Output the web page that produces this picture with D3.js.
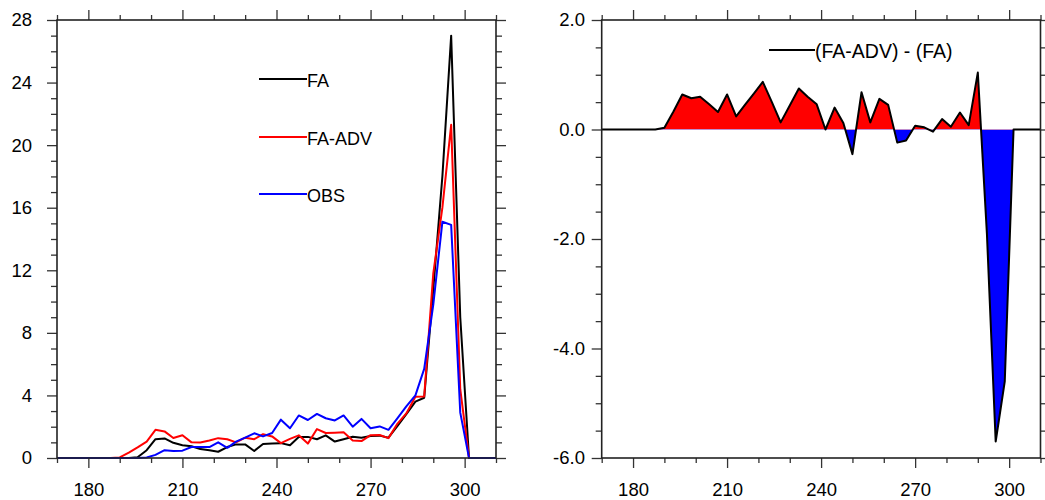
<!DOCTYPE html>
<html>
<head>
<meta charset="utf-8">
<script src="https://cdn.jsdelivr.net/npm/d3@7"></script>
<style>
html, body { margin: 0; padding: 0; background: #fff; }
svg { display: block; font-family: "Liberation Sans", Arial, Helvetica, sans-serif; }
</style>
</head>
<body>
<svg id="chart" width="1045" height="500"></svg>
<script>
// bin centres (K)
const temps = [170.0, 172.9, 175.7, 178.6, 181.4, 184.3, 187.1, 190.0, 192.9, 195.7,
    198.6, 201.4, 204.3, 207.1, 210.0, 212.9, 215.7, 218.6, 221.4, 224.3,
    227.1, 230.0, 232.9, 235.7, 238.6, 241.4, 244.3, 247.1, 250.0, 252.9,
    255.7, 258.6, 261.4, 264.3, 267.1, 270.0, 272.9, 275.7, 278.6, 281.4,
    284.3, 287.1, 290.0, 292.9, 295.7, 298.6, 301.4, 304.3, 307.1, 310.0]

const fa = [0, 0, 0, 0, 0, 0, 0, 0, 0, 0.05,
    0.5, 1.2, 1.25, 0.97, 0.82, 0.75, 0.57, 0.5, 0.4, 0.7,
    0.87, 0.87, 0.45, 0.9, 0.92, 0.95, 0.82, 1.34, 1.35, 1.2,
    1.45, 1.05, 1.2, 1.36, 1.3, 1.4, 1.43, 1.3, 2.05, 2.8,
    3.6, 3.85, 10.8, 18.0, 27.0, 9.0, 0, 0, 0, 0]

const faAdv = [0, 0, 0, 0, 0, 0, 0, 0.04, 0.34, 0.68,
    1.05, 1.8, 1.7, 1.28, 1.45, 1.0, 0.99, 1.12, 1.27, 1.2,
    1.0, 1.3, 1.2, 1.52, 1.38, 0.95, 1.22, 1.45, 0.92, 1.85,
    1.6, 1.62, 1.65, 1.12, 1.08, 1.46, 1.47, 1.27, 2.2, 2.85,
    3.92, 3.93, 11.8, 16.0, 21.3, 4.4, 0, 0, 0, 0]

const obs = [0, 0, 0, 0, 0, 0, 0, 0, 0, 0,
    0.03, 0.2, 0.5, 0.45, 0.47, 0.7, 0.7, 0.7, 1.0, 0.65,
    1.05, 1.3, 1.58, 1.38, 1.6, 2.45, 1.9, 2.72, 2.43, 2.82,
    2.54, 2.4, 2.72, 2.0, 2.5, 1.9, 2.02, 1.8, 2.55, 3.3,
    4.0, 5.7, 9.8, 15.1, 14.9, 2.9, 0, 0, 0, 0]

// (FA-ADV) - (FA)
const diff = [0, 0, 0, 0, 0, 0, 0, 0.03, 0.33, 0.64,
    0.57, 0.6, 0.46, 0.32, 0.64, 0.24, 0.45, 0.66, 0.87, 0.5,
    0.13, 0.44, 0.75, 0.6, 0.46, 0.0, 0.4, 0.12, -0.45, 0.68,
    0.13, 0.56, 0.45, -0.24, -0.2, 0.07, 0.04, -0.04, 0.19, 0.05,
    0.31, 0.08, 1.04, -1.9, -5.7, -4.6, 0, 0, 0, 0]

const xMajor = [180, 210, 240, 270, 300]
const xMinor = [170, 190, 200, 220, 230, 250, 260, 280, 290, 310]
const leftMajor = [0, 4, 8, 12, 16, 20, 24, 28]
const leftMinor = d3.range(0, 29, 1).filter(v => v % 4 !== 0)
const rightMajor = [-6, -4, -2, 0, 2]
const rightMinor = [-5.5, -5, -4.5, -3.5, -3, -2.5, -1.5, -1, -0.5, 0.5, 1, 1.5]

const leftSeries = [
    { name: 'FA', values: fa, color: '#000000', ly: 79 },
    { name: 'FA-ADV', values: faAdv, color: '#ff0000', ly: 137 },
    { name: 'OBS', values: obs, color: '#0000ff', ly: 194 }
]

const svg = d3.select('#chart')

const frameAxes = (xScale, yScale, yMajor, yMinor, yFmt, labelRight) => {
    const [xl, xr] = xScale.range(), [yb, yt] = yScale.range()
    const g = svg.append('g').attr('class', 'frame')
    const tidy = sel => {
        sel.select('.domain').remove()
        sel.selectAll('line').attr('stroke', '#333').attr('stroke-width', 1.3)
    }
    // x ticks, bottom and top
    const bottom = g.append('g').attr('transform', `translate(0,${yb})`)
        .call(d3.axisBottom(xScale).tickValues(xMajor).tickSize(10).tickFormat(d3.format('d')))
        .call(tidy)
    bottom.selectAll('text').attr('y', 37.5).attr('dy', 0)
    g.append('g').attr('transform', `translate(0,${yb})`)
        .call(d3.axisBottom(xScale).tickValues(xMinor).tickSize(5).tickFormat('')).call(tidy)
    g.append('g').attr('transform', `translate(0,${yt})`)
        .call(d3.axisTop(xScale).tickValues(xMajor).tickSize(10).tickFormat('')).call(tidy)
    g.append('g').attr('transform', `translate(0,${yt})`)
        .call(d3.axisTop(xScale).tickValues(xMinor).tickSize(5).tickFormat('')).call(tidy)
    // y ticks, left and right
    const left = g.append('g').attr('transform', `translate(${xl},0)`)
        .call(d3.axisLeft(yScale).tickValues(yMajor).tickSize(10).tickFormat(yFmt))
        .call(tidy)
    left.selectAll('text').attr('x', labelRight - xl)
    g.append('g').attr('transform', `translate(${xl},0)`)
        .call(d3.axisLeft(yScale).tickValues(yMinor).tickSize(6).tickFormat('')).call(tidy)
    g.append('g').attr('transform', `translate(${xr},0)`)
        .call(d3.axisRight(yScale).tickValues(yMajor).tickSize(10).tickFormat('')).call(tidy)
    g.append('g').attr('transform', `translate(${xr},0)`)
        .call(d3.axisRight(yScale).tickValues(yMinor).tickSize(6).tickFormat('')).call(tidy)

    g.selectAll('text')
        .attr('fill', '#000')
        .style('font-size', '18.5px')
        .style('font-family', '"Liberation Sans", Arial, sans-serif')

    g.append('rect')
        .attr('x', xl).attr('y', yt)
        .attr('width', xr - xl).attr('height', yb - yt)
        .attr('fill', 'none').attr('stroke', '#222').attr('stroke-width', 1.6)
}

// ---- left panel: frequency distributions
const xL = d3.scaleLinear().domain([170, 310]).range([57, 496])
const yL = d3.scaleLinear().domain([0, 28]).range([458, 20])

const lineL = vals => d3.line()
    .x((d, i) => xL(temps[i]))
    .y(d => yL(d))(vals)

leftSeries.forEach(s => {
    svg.append('path')
        .attr('d', lineL(s.values))
        .attr('fill', 'none')
        .attr('stroke', s.color)
        .attr('stroke-width', 2)
        .attr('stroke-linejoin', 'round')
})

frameAxes(xL, yL, leftMajor, leftMinor, d3.format('d'), 32)

// legend
leftSeries.forEach(s => {
    svg.append('line')
        .attr('x1', 259).attr('x2', 307)
        .attr('y1', s.ly).attr('y2', s.ly)
        .attr('stroke', s.color).attr('stroke-width', 2)
    svg.append('text')
        .attr('x', 307).attr('y', s.ly + 2)
        .attr('dy', '0.35em')
        .style('font-size', '18px')
        .text(s.name)
})

// ---- right panel: difference
const xR = d3.scaleLinear().domain([170, 310]).range([601.7, 1040.5])
const yR = d3.scaleLinear().domain([-6, 2]).range([458, 20])
const zeroY = yR(0)

const defs = svg.append('defs')
defs.append('clipPath').attr('id', 'clipAbove')
    .append('rect').attr('x', xR.range()[0]).attr('y', yR(2))
    .attr('width', xR.range()[1] - xR.range()[0]).attr('height', zeroY - yR(2))
defs.append('clipPath').attr('id', 'clipBelow')
    .append('rect').attr('x', xR.range()[0]).attr('y', zeroY)
    .attr('width', xR.range()[1] - xR.range()[0]).attr('height', yR(-6) - zeroY)

const areaR = d3.area()
    .x((d, i) => xR(temps[i]))
    .y0(zeroY)
    .y1(d => yR(d))

svg.append('path').attr('d', areaR(diff))
    .attr('fill', '#ff0000').attr('clip-path', 'url(#clipAbove)')
svg.append('path').attr('d', areaR(diff))
    .attr('fill', '#0000ff').attr('clip-path', 'url(#clipBelow)')

svg.append('path')
    .attr('d', d3.line().x((d, i) => xR(temps[i])).y(d => yR(d))(diff))
    .attr('fill', 'none')
    .attr('stroke', '#000')
    .attr('stroke-width', 2)
    .attr('stroke-linejoin', 'round')

frameAxes(xR, yR, rightMajor, rightMinor, d => d.toFixed(1), 585)

svg.append('line')
    .attr('x1', 769).attr('x2', 815)
    .attr('y1', 50).attr('y2', 50)
    .attr('stroke', '#000').attr('stroke-width', 2)
svg.append('text')
    .attr('x', 815).attr('y', 51)
    .attr('dy', '0.35em')
    .style('font-size', '19.5px')
    .text('(FA-ADV) - (FA)')
</script>
</body>
</html>
